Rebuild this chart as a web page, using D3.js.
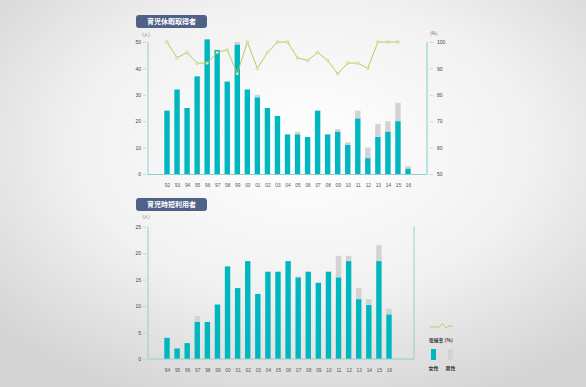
<!DOCTYPE html>
<html><head><meta charset="utf-8">
<script src="https://cdn.jsdelivr.net/npm/d3@7"></script>
<style>
html,body{margin:0;padding:0;}
body{width:586px;height:387px;overflow:hidden;}
svg{display:block;font-family:"Noto Sans CJK JP","Noto Sans",sans-serif;}
</style></head><body>
<svg id="c" width="586" height="387"></svg>
<script>
// ---- data: 育児休暇取得者 ----
const yearsA = ["92","93","94","95","96","97","98","99","00","01","02","03","04","05","06","07","08","09","10","11","12","13","14","15","16"];
const womenA = [24,32,25,37,51,47,35,49,32,29,25,22,15,15,14,24,15,16,11,21,6,14,16,20,2];
const menA   = [0,0,0,0,0,0,0,1,0,1,0,0,0,1,0,0,0,1,1,3,4,5,4,7,1];
const returnRate = [100,94,96,92,92,96,97,88,100,90,96,100,100,94,93,96,93,88,92,92,90,100,100,100,null];
const ticksLeftA = [0,10,20,30,40,50];
const ticksRightA = [50,60,70,80,90,100];
// ---- data: 育児時短利用者 ----
const yearsB = ["94","95","96","97","98","99","00","01","02","03","04","05","06","07","08","09","10","11","12","13","14","15","16"];
const womenB = [4,2,3,7,7,10.3,17.5,13.4,18.5,12.3,16.5,16.5,18.5,15.4,16.5,14.4,16.5,15.4,18.5,11.3,10.2,18.5,8.4];
const menB   = [0,0,0,1.1,0,0,0,0,0,0,0,0,0,0.2,0,0,0,4.1,1,2.1,1.1,3,1.1];
const ticksB = [0,5,10,15,20,25];
const titles = ["育児休暇取得者","育児時短利用者"];
const legendLabels = ["復帰率 (%)","女性","男性"];

const TEAL = "#00b7bf", GREY = "#d3d3d3", GREEN = "#a9c94e", AXIS = "#8fd0cf", BADGE = "#4f6187";

const svg = d3.select("#c");
const defs = svg.append("defs");
const rg = defs.append("radialGradient").attr("id","bg").attr("cx","52%").attr("cy","38%").attr("r","70%");
rg.append("stop").attr("offset","0%").attr("stop-color","#ffffff");
rg.append("stop").attr("offset","55%").attr("stop-color","#f1f1f1");
rg.append("stop").attr("offset","100%").attr("stop-color","#d4d4d4");
svg.append("rect").attr("width",586).attr("height",387).attr("fill","url(#bg)");

function badge(x,y,text){
  svg.append("rect").attr("x",x).attr("y",y).attr("width",71).attr("height",13).attr("rx",3).attr("fill",BADGE);
  svg.append("text").attr("x",x+35.5).attr("y",y+9.3).attr("text-anchor","middle")
    .attr("fill","#fff").attr("font-size",7).attr("font-weight","bold").text(text);
}

function leftAxis(g, y, ticks){
  const ax = d3.axisLeft(y).tickValues(ticks).tickSize(0).tickPadding(7);
  const a = g.append("g").attr("transform","translate(148,0)").call(ax);
  a.select(".domain").remove();
  a.selectAll("text").attr("font-size",5).attr("fill","#444").attr("font-family","Arial, Liberation Sans, sans-serif");
  a.selectAll(".tick").append("line").attr("x1",-5).attr("x2",-2).attr("stroke","#bbb").attr("stroke-width",0.6);
}

// ---------- chart A ----------
badge(136,15,titles[0]);
const xA = d3.scalePoint().domain(yearsA).range([167,408]);
const yA = d3.scaleLinear().domain([0,50]).range([174,42]);
const yR = d3.scaleLinear().domain([50,100]).range([174,42]);
const gA = svg.append("g");
svg.append("text").attr("x",146).attr("y",36).attr("font-size",4.5).attr("fill","#555").attr("text-anchor","middle").text("(人)");
leftAxis(gA, yA, ticksLeftA);
const bw = 5.4;
gA.selectAll(".m").data(yearsA).join("rect").attr("x",d=>xA(d)-bw/2)
  .attr("y",(d,i)=>yA(womenA[i]+menA[i])).attr("width",bw)
  .attr("height",(d,i)=>yA(womenA[i])-yA(womenA[i]+menA[i])).attr("fill",GREY);
gA.selectAll(".w").data(yearsA).join("rect").attr("x",d=>xA(d)-bw/2)
  .attr("y",(d,i)=>yA(womenA[i])).attr("width",bw)
  .attr("height",(d,i)=>yA(0)-yA(womenA[i])).attr("fill",TEAL);
// frame
gA.append("line").attr("x1",148).attr("x2",148).attr("y1",42).attr("y2",175).attr("stroke",AXIS).attr("stroke-width",1);
gA.append("line").attr("x1",148).attr("x2",427).attr("y1",174.5).attr("y2",174.5).attr("stroke",AXIS).attr("stroke-width",1);
gA.append("line").attr("x1",427).attr("x2",427).attr("y1",42).attr("y2",175).attr("stroke","#a9dcdb").attr("stroke-width",1.6);
// right axis
const axR = d3.axisRight(yR).tickValues(ticksRightA).tickSize(0).tickPadding(10);
const aR = gA.append("g").attr("transform","translate(427,0)").call(axR);
aR.select(".domain").remove();
aR.selectAll("text").attr("font-size",5).attr("fill","#444").attr("font-family","Arial, Liberation Sans, sans-serif");
aR.selectAll(".tick").append("line").attr("x1",3).attr("x2",6).attr("stroke","#bbb").attr("stroke-width",0.6);
svg.append("text").attr("x",430).attr("y",35).attr("font-size",4.5).attr("fill","#555").text("(%)");
// x labels
const bxA = gA.append("g").attr("transform","translate(0,180)").call(d3.axisBottom(xA).tickSize(0).tickPadding(4));
bxA.select(".domain").remove();
bxA.selectAll("text").attr("font-size",4.8).attr("fill","#555").attr("font-family","Arial, Liberation Sans, sans-serif");
// line
const lineData = yearsA.map((d,i)=>({x:d,v:returnRate[i]})).filter(d=>d.v!=null);
gA.append("path").datum(lineData).attr("fill","none").attr("stroke",GREEN).attr("stroke-width",0.9)
  .attr("d",d3.line().x(d=>xA(d.x)).y(d=>yR(d.v)));
gA.selectAll(".pt").data(lineData).join("circle").attr("cx",d=>xA(d.x)).attr("cy",d=>yR(d.v)).attr("r",1.3)
  .attr("fill","#f4f8e4").attr("stroke",GREEN).attr("stroke-width",0.6);

// ---------- chart B ----------
badge(136,198,titles[1]);
const xB = d3.scalePoint().domain(yearsB).range([167,389]);
const yB = d3.scaleLinear().domain([0,25]).range([359,226.7]);
const gB = svg.append("g");
svg.append("text").attr("x",146).attr("y",218).attr("font-size",4.5).attr("fill","#555").attr("text-anchor","middle").text("(人)");
leftAxis(gB, yB, ticksB);
gB.selectAll(".m").data(yearsB).join("rect").attr("x",d=>xB(d)-bw/2)
  .attr("y",(d,i)=>yB(womenB[i]+menB[i])).attr("width",bw)
  .attr("height",(d,i)=>yB(womenB[i])-yB(womenB[i]+menB[i])).attr("fill",GREY);
gB.selectAll(".w").data(yearsB).join("rect").attr("x",d=>xB(d)-bw/2)
  .attr("y",(d,i)=>yB(womenB[i])).attr("width",bw)
  .attr("height",(d,i)=>yB(0)-yB(womenB[i])).attr("fill",TEAL);
gB.append("line").attr("x1",148).attr("x2",148).attr("y1",226.7).attr("y2",359.5).attr("stroke",AXIS).attr("stroke-width",1);
gB.append("line").attr("x1",148).attr("x2",414).attr("y1",359).attr("y2",359).attr("stroke",AXIS).attr("stroke-width",1);
gB.append("line").attr("x1",414).attr("x2",414).attr("y1",226).attr("y2",359.5).attr("stroke","#7fc9c9").attr("stroke-width",0.8);
const bxB = gB.append("g").attr("transform","translate(0,365)").call(d3.axisBottom(xB).tickSize(0).tickPadding(4));
bxB.select(".domain").remove();
bxB.selectAll("text").attr("font-size",4.8).attr("fill","#555").attr("font-family","Arial, Liberation Sans, sans-serif");

// ---------- legend ----------
const lg = svg.append("g");
lg.append("path").attr("d","M430,327 L439,327 L442.5,323.5 L446,328 L449,326 L453,326")
  .attr("fill","none").attr("stroke",GREEN).attr("stroke-width",0.8);
lg.append("text").attr("x",429).attr("y",341.5).attr("font-size",4.8).attr("font-weight","bold").attr("fill","#333").text(legendLabels[0]);
lg.append("rect").attr("x",431).attr("y",349).attr("width",5).attr("height",11).attr("fill",TEAL);
lg.append("rect").attr("x",448).attr("y",349).attr("width",5).attr("height",11).attr("fill",GREY);
lg.append("text").attr("x",433.5).attr("y",369.5).attr("text-anchor","middle").attr("font-size",5).attr("font-weight","bold").attr("fill","#333").text(legendLabels[1]);
lg.append("text").attr("x",450.5).attr("y",369.5).attr("text-anchor","middle").attr("font-size",5).attr("font-weight","bold").attr("fill","#333").text(legendLabels[2]);
</script>
</body></html>
